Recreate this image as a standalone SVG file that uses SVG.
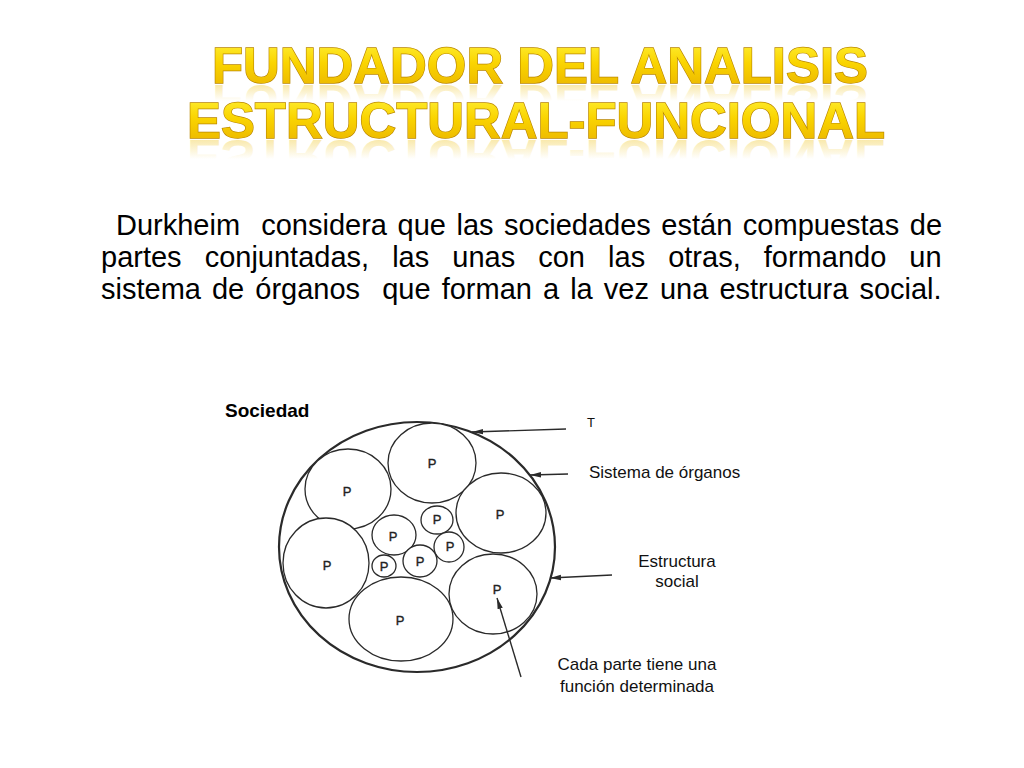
<svg xmlns="http://www.w3.org/2000/svg" width="1024" height="768" viewBox="0 0 1024 768">
<defs>
<style>
.title{font-family:"Liberation Sans",Arial,sans-serif;font-weight:bold;font-size:50px}
.face{stroke:#B98600;stroke-width:1.3;paint-order:stroke}
.para{font-family:"Liberation Sans",Arial,sans-serif;font-size:29px;fill:#000;white-space:pre}
.lbl{font-family:"Liberation Sans",Arial,sans-serif;font-size:17px;fill:#111}
.p{font-family:"Liberation Sans",Arial,sans-serif;font-size:13px;fill:#222;stroke:#222;stroke-width:0.35;text-anchor:middle}
.part{fill:#fff;stroke:#2a2a2a;stroke-width:1.3}
.conn{stroke:#2a2a2a;stroke-width:1.4;fill:none;marker-end:url(#ah)}
</style>
<linearGradient id="gold" x1="0" y1="0" x2="0" y2="1">
<stop offset="0" stop-color="#FFF23A"/>
<stop offset="0.45" stop-color="#FAD400"/>
<stop offset="1" stop-color="#E8B000"/>
</linearGradient>
<linearGradient id="ref1" gradientUnits="userSpaceOnUse" x1="0" y1="83" x2="0" y2="67">
<stop offset="0" stop-color="#F0C830" stop-opacity="0.4"/>
<stop offset="1" stop-color="#F0C830" stop-opacity="0"/>
</linearGradient>
<linearGradient id="ref2" gradientUnits="userSpaceOnUse" x1="0" y1="138" x2="0" y2="119">
<stop offset="0" stop-color="#F0C830" stop-opacity="0.4"/>
<stop offset="1" stop-color="#F0C830" stop-opacity="0"/>
</linearGradient>
<marker id="ah" markerWidth="12" markerHeight="8" refX="11" refY="4" orient="auto" markerUnits="userSpaceOnUse">
<path d="M0,1.3 L11,4 L0,6.7 Z" fill="#2a2a2a"/>
</marker>
</defs>
<rect width="1024" height="768" fill="#fff"/>

<g id="title">
<text class="title" x="212" y="83" transform="matrix(1 0 0 -1 0 168)" fill="url(#ref1)" textLength="656" lengthAdjust="spacingAndGlyphs">FUNDADOR DEL ANALISIS</text>
<text class="title" x="187" y="138" transform="matrix(1 0 0 -1 0 278)" fill="url(#ref2)" textLength="698" lengthAdjust="spacingAndGlyphs">ESTRUCTURAL-FUNCIONAL</text>
<text class="title face" x="212" y="83" fill="url(#gold)" textLength="656" lengthAdjust="spacingAndGlyphs">FUNDADOR DEL ANALISIS</text>
<text class="title face" x="187" y="138" fill="url(#gold)" textLength="698" lengthAdjust="spacingAndGlyphs">ESTRUCTURAL-FUNCIONAL</text>
</g>

<g id="paragraph">
<text class="para" xml:space="preserve" x="116" y="235" word-spacing="2.5">Durkheim  considera que las sociedades están compuestas de</text>
<text class="para" xml:space="preserve" x="101" y="267" word-spacing="15">partes conjuntadas, las unas con las otras, formando un</text>
<text class="para" xml:space="preserve" x="101" y="299" word-spacing="3">sistema de órganos  que forman a la vez una estructura social.</text>
</g>

<g id="sociedad">
<text x="225" y="417" style="font-family:'Liberation Sans',Arial,sans-serif;font-size:19px;font-weight:bold;fill:#000">Sociedad</text>
</g>

<g id="outer">
<ellipse cx="417" cy="547" rx="138" ry="125" fill="#fff" stroke="#2a2a2a" stroke-width="2.2"/>
</g>

<g id="parts">
<g id="p1"><ellipse class="part" cx="432" cy="463" rx="44" ry="40"/><text class="p" x="432" y="468">P</text></g>
<g id="p2"><ellipse class="part" cx="348" cy="489" rx="43" ry="40"/><text class="p" x="347" y="496">P</text></g>
<g id="p3"><ellipse class="part" cx="501" cy="513" rx="45" ry="40"/><text class="p" x="500" y="519">P</text></g>
<g id="p4"><ellipse class="part" cx="326" cy="563" rx="43" ry="45"/><text class="p" x="327" y="570">P</text></g>
<g id="p5"><ellipse class="part" cx="401" cy="619" rx="52" ry="42"/><text class="p" x="400" y="625">P</text></g>
<g id="p6"><ellipse class="part" cx="493" cy="594" rx="44" ry="40"/><text class="p" x="497" y="594">P</text></g>
<g id="p7"><ellipse class="part" cx="394" cy="535" rx="22" ry="20"/><text class="p" x="393" y="541">P</text></g>
<g id="p8"><ellipse class="part" cx="437" cy="520" rx="16" ry="14"/><text class="p" x="437" y="524">P</text></g>
<g id="p9"><ellipse class="part" cx="449" cy="547" rx="15" ry="15"/><text class="p" x="450" y="551">P</text></g>
<g id="p10"><ellipse class="part" cx="384" cy="566" rx="12" ry="11"/><text class="p" x="384" y="571">P</text></g>
<g id="p11"><ellipse class="part" cx="420" cy="561" rx="17" ry="16"/><text class="p" x="420" y="566">P</text></g>
</g>

<g id="connectors">
<line class="conn" x1="566" y1="429" x2="472" y2="432"/>
<line class="conn" x1="568" y1="474" x2="530" y2="475"/>
<line class="conn" x1="612" y1="575" x2="550" y2="578"/>
<line class="conn" x1="521" y1="677" x2="497" y2="598"/>
</g>

<g id="label-t"><text class="lbl" x="587" y="427" style="font-size:13px">T</text></g>
<g id="label-sistema"><text class="lbl" x="589" y="478">Sistema de órganos</text></g>
<g id="label-estructura"><text class="lbl" x="677" y="567" text-anchor="middle">Estructura</text><text class="lbl" x="677" y="587" text-anchor="middle">social</text></g>
<g id="label-funcion"><text class="lbl" x="637" y="670" text-anchor="middle">Cada parte tiene una</text><text class="lbl" x="637" y="692" text-anchor="middle">función determinada</text></g>
</svg>
